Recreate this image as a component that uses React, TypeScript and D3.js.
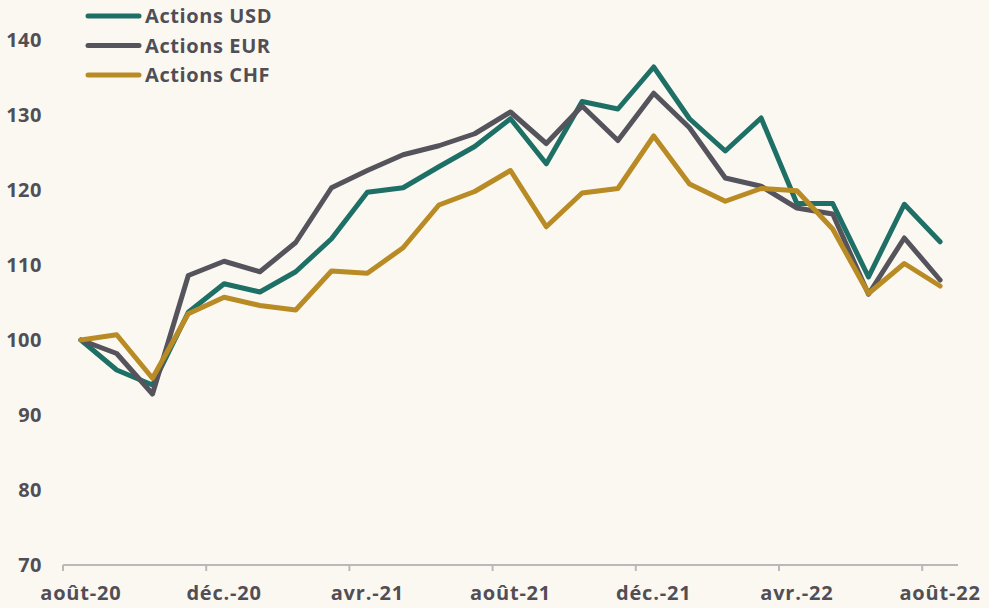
import React from "react";
import * as d3 from "d3";

const months = ["août-20","sept.-20","oct.-20","nov.-20","déc.-20","janv.-21","févr.-21","mars-21","avr.-21","mai-21","juin-21","juil.-21","août-21","sept.-21","oct.-21","nov.-21","déc.-21","janv.-22","févr.-22","mars-22","avr.-22","mai-22","juin-22","juil.-22","août-22"];
const usd = [100, 96.0, 94.0, 103.7, 107.5, 106.4, 109.1, 113.5, 119.7, 120.3, 123.1, 125.8, 129.5, 123.5, 131.8, 130.8, 136.4, 129.5, 125.2, 129.6, 118.2, 118.2, 108.4, 118.1, 113.1];
const eur = [100, 98.2, 92.8, 108.6, 110.5, 109.1, 113.0, 120.3, 122.6, 124.7, 125.9, 127.5, 130.4, 126.2, 131.2, 126.6, 132.9, 128.3, 121.6, 120.5, 117.6, 116.8, 106.1, 113.6, 108.0];
const chf = [100, 100.7, 94.9, 103.5, 105.7, 104.6, 104.0, 109.2, 108.9, 112.3, 118.0, 119.8, 122.6, 115.1, 119.6, 120.2, 127.2, 120.8, 118.5, 120.2, 119.9, 114.8, 106.2, 110.2, 107.2];
const seriesNames = ["Actions USD", "Actions EUR", "Actions CHF"];
const seriesColors = ["#1e6f66", "#55535b", "#b98b25"];
const yTicks = [70, 80, 90, 100, 110, 120, 130, 140];
const labelEvery = 4;

export default function App() {
  const W = 989, H = 608;
  const left = 63, right = 958, top = 40, bottom = 565;
  const x = d3.scaleBand<string>().domain(months).range([left, right]).paddingInner(0).paddingOuter(0);
  const y = d3.scaleLinear().domain([70, 140]).range([bottom, top]);
  const cx = (m: string) => (x(m) as number) + x.bandwidth() / 2;
  const line = d3.line<number>().x((_, i) => cx(months[i])).y(d => y(d));
  const data = [usd, eur, chf];
  const font = "'Open Sans', sans-serif";
  const textColor = "#514e55";
  return (
    <svg width={W} height={H} style={{ position: "absolute", left: 0, top: 0, background: "#fbf8f1" }} fontFamily={font}>
      <rect x={0} y={0} width={W} height={H} fill="#fbf8f1" />
      {yTicks.map(t => (
        <text key={t} x={42} y={y(t)} dy="0.35em" textAnchor="end" fontSize={20} fontWeight={700} letterSpacing={0.5} fill={textColor}>{t}</text>
      ))}
      <line x1={left} x2={right} y1={bottom} y2={bottom} stroke="#b9b9b9" strokeWidth={2} />
      {months.map((m, i) => i % labelEvery === 0 ? (
        <g key={m}>
          <line x1={x(m) as number} x2={x(m) as number} y1={bottom} y2={bottom + 6} stroke="#b9b9b9" strokeWidth={2} />
          <text x={cx(m)} y={600} textAnchor="middle" fontSize={20} fontWeight={700} letterSpacing={0.8} fill={textColor}>{m}</text>
        </g>
      ) : null)}
      {data.map((s, k) => (
        <path key={k} d={line(s) as string} fill="none" stroke={seriesColors[k]} strokeWidth={5} strokeLinejoin="round" strokeLinecap="round" />
      ))}
      {seriesNames.map((n, k) => (
        <g key={n}>
          <line x1={88} x2={139} y1={16 + k * 29.5} y2={16 + k * 29.5} stroke={seriesColors[k]} strokeWidth={5} strokeLinecap="round" />
          <text x={145} y={16 + k * 29.5} dy="0.35em" fontSize={20} fontWeight={700} letterSpacing={0.6} fill={textColor}>{n}</text>
        </g>
      ))}
    </svg>
  );
}
